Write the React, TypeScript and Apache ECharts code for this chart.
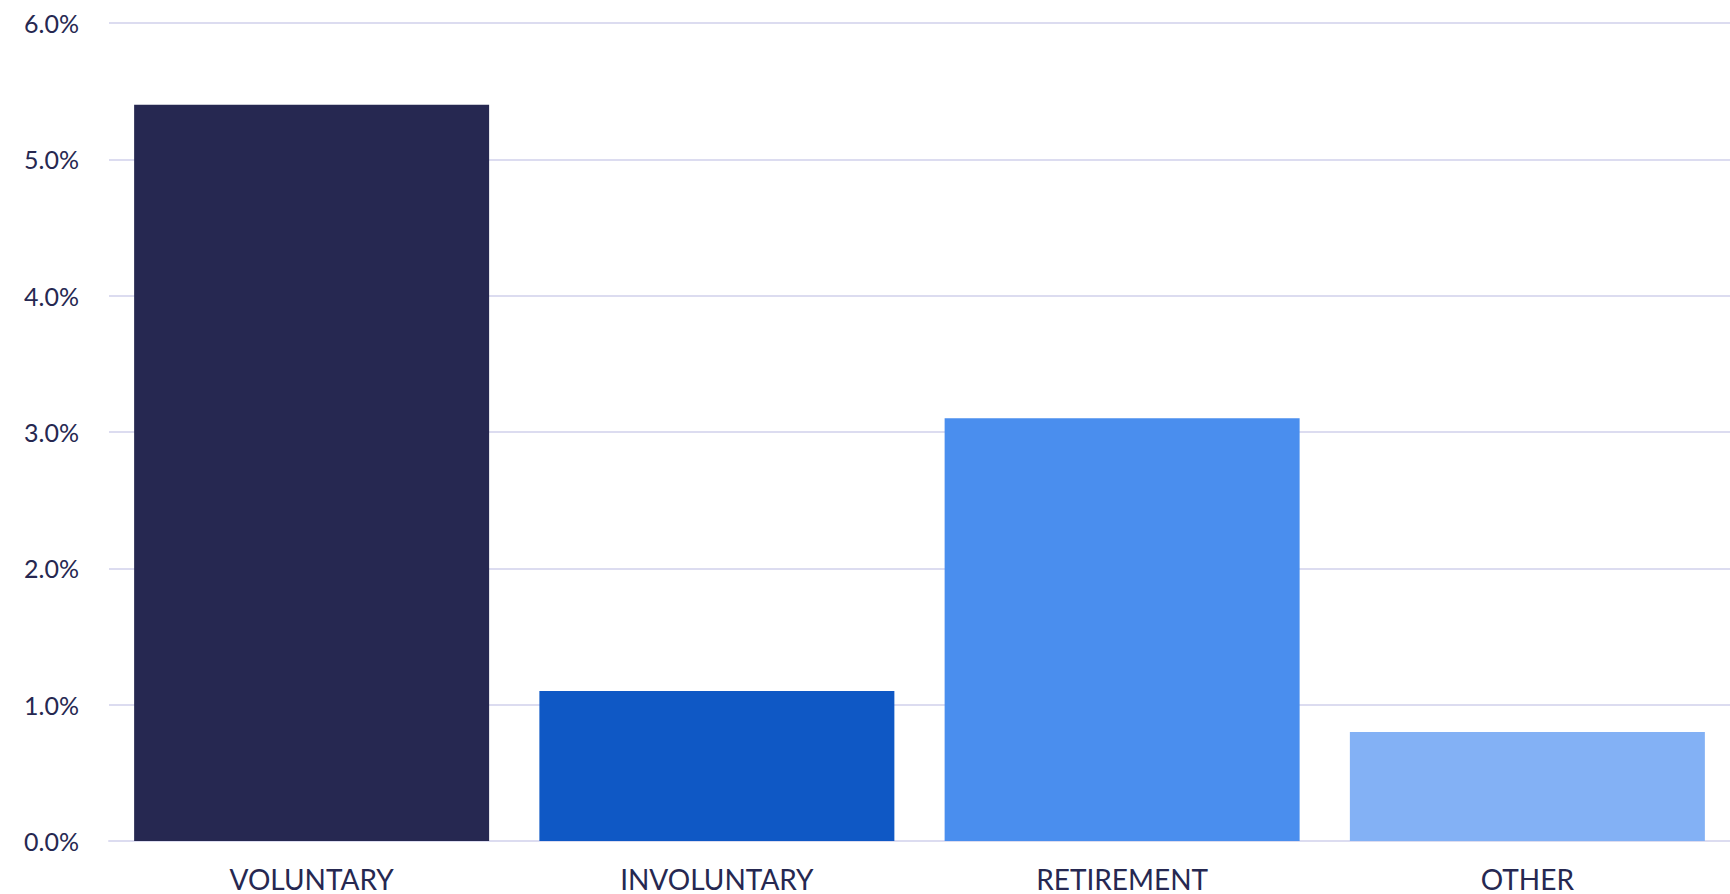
import React, { useEffect, useRef } from "react";
import * as echarts from "echarts";

const categories = ["VOLUNTARY", "INVOLUNTARY", "RETIREMENT", "OTHER"];
const values = [5.4, 1.1, 3.1, 0.8];
const barColors = ["#262851", "#0F58C5", "#4A8EEE", "#83B1F5"];
const yTicks = [0, 1, 2, 3, 4, 5, 6];

export default function App() {
  const ref = useRef<HTMLDivElement>(null);
  useEffect(() => {
    if (!ref.current) return;
    const chart = echarts.init(ref.current, null, { renderer: "svg" });
    chart.setOption({
      animation: false,
      grid: { left: 109, right: -5, top: 23, bottom: 53, containLabel: false },
      xAxis: {
        type: "category",
        data: categories,
        axisLine: { show: true, lineStyle: { color: "#DCDCF0", width: 2 } },
        axisTick: { show: false },
        axisLabel: {
          color: "#262851",
          fontFamily: "Lato",
          fontSize: 28,
          lineHeight: 28,
          margin: 24,
        },
      },
      yAxis: {
        type: "value",
        min: yTicks[0],
        max: yTicks[yTicks.length - 1],
        interval: 1,
        axisLine: { show: false },
        axisTick: { show: false },
        splitLine: { lineStyle: { color: "#DCDCF0", width: 2 } },
        axisLabel: {
          color: "#262851",
          fontFamily: "Lato",
          fontSize: 25,
          margin: 30,
          formatter: (v: number) => v.toFixed(1) + "%",
        },
      },
      series: [
        {
          type: "bar",
          data: values.map((v, i) => ({ value: v, itemStyle: { color: barColors[i] } })),
          barCategoryGap: "12.4%",
        },
      ],
    });
    return () => chart.dispose();
  }, []);
  return (
    <div
      ref={ref}
      style={{ position: "fixed", left: 0, top: 0, width: 1730, height: 894, background: "#fff" }}
    />
  );
}
